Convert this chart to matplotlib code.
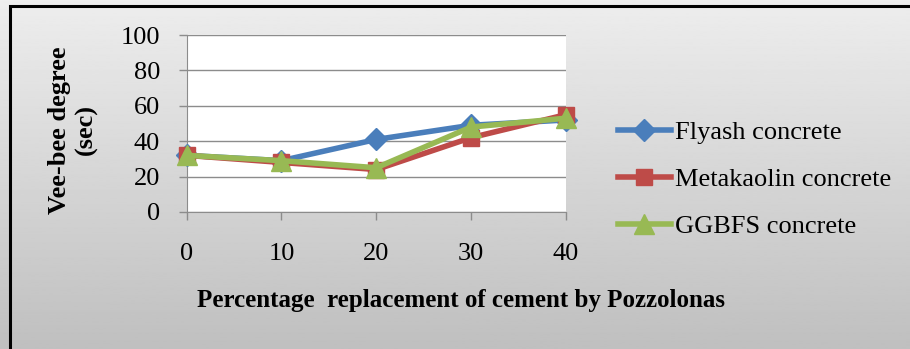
import numpy as np
import matplotlib.pyplot as plt
from matplotlib.patches import Rectangle

replacement = [0, 10, 20, 30, 40]
flyash = [32, 29, 41, 49, 52]
metakaolin = [32, 28, 24, 42, 55]
ggbfs = [32, 29, 25, 48, 53]
series_names = ["Flyash concrete", "Metakaolin concrete", "GGBFS concrete"]
y_ticks = [0, 20, 40, 60, 80, 100]

W, H = 910, 349
fig = plt.figure(figsize=(W / 100, H / 100), dpi=100)

# gradient background
bg = fig.add_axes([0, 0, 1, 1], zorder=-10)
grad = np.linspace(0.93, 0.75, 256).reshape(-1, 1)
bg.imshow(grad, aspect="auto", cmap="gray", vmin=0, vmax=1, extent=[0, 1, 0, 1])
bg.set_xlim(0, 1)
bg.set_ylim(0, 1)
bg.axis("off")
bg.add_patch(Rectangle((9.5 / W, -0.05), 1.2, 1.05 - 6 / H, fill=False,
                       edgecolor="black", linewidth=2.2, transform=bg.transAxes))

ax = fig.add_axes([186.5 / W, 1 - 212 / H, (566 - 186.5) / W, (212 - 35) / H])
ax.set_facecolor("white")

styles = [
    (flyash, "#4a7ebb", "D", 11),
    (metakaolin, "#be4b48", "s", 12),
    (ggbfs, "#98b954", "^", 14),
]
for (vals, color, marker, ms), name in zip(styles, series_names):
    ax.plot(replacement, vals, color=color, lw=4, marker=marker,
            markersize=ms, label=name, clip_on=False, zorder=3)

ax.set_xlim(0, 40)
ax.set_ylim(0, 100)
ax.set_xticks(replacement)
ax.set_yticks(y_ticks)
ax.yaxis.grid(True, color="#8c8c8c", lw=1)
ax.set_axisbelow(True)
for s in ["top", "right"]:
    ax.spines[s].set_visible(False)
for s in ["left", "bottom"]:
    ax.spines[s].set_color("#8c8c8c")
ax.tick_params(axis="both", colors="#8c8c8c", length=6, width=1,
               labelcolor="black", labelsize=19)
ax.tick_params(axis="x", pad=16)
ax.tick_params(axis="y", pad=13)
for lab in ax.get_xticklabels() + ax.get_yticklabels():
    lab.set_fontfamily("Liberation Serif")

fig.text(73 / W, 1 - 130 / H, "Vee-bee degree\n(sec)", rotation=90,
         ha="center", va="center", fontsize=19, fontweight="bold",
         family="Liberation Serif", linespacing=1.15)
fig.text(461 / W, 1 - 301 / H, "Percentage  replacement of cement by Pozzolonas",
         ha="center", va="center", fontsize=18, fontweight="bold",
         family="Liberation Serif")

leg = fig.legend(loc="upper left", bbox_to_anchor=(618 / W, 1 - 121 / H),
                 frameon=False, prop={"family": "Liberation Serif", "size": 19},
                 handlelength=2.0, handletextpad=0.15, labelspacing=0.88,
                 markerscale=1.0, borderaxespad=0, borderpad=0)

fig.savefig("out.png", dpi=100)
